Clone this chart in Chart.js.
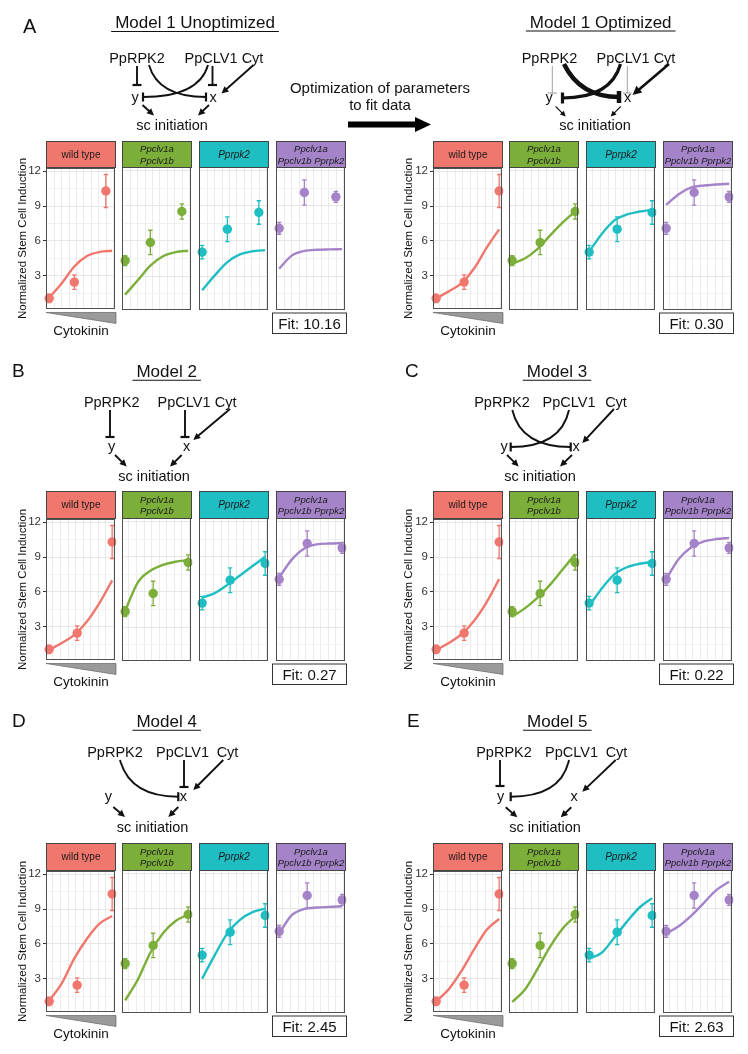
<!DOCTYPE html>
<html><head><meta charset="utf-8">
<script src="https://cdn.jsdelivr.net/npm/chart.js@4.4.1/dist/chart.umd.min.js"></script>
<style>
html,body{margin:0;padding:0;background:#fff;}
#page{position:relative;width:748px;height:1054px;overflow:hidden;font-family:"Liberation Sans",Arial,sans-serif;color:#111;}
canvas{position:absolute;}
svg{position:absolute;left:0;top:0;}
</style></head>
<body><div id="page"></div>
<script>
// ---------------- DATA ----------------
const genotypes = ['wild type', 'Ppclv1a|Ppclv1b', 'Pprpk2', 'Ppclv1a|Ppclv1b Pprpk2'];
const cytokininLevels = [0, 1, 2.25];
// observed stem cell induction (mean, error)
const wtMean  = [1.05, 2.45, 10.3];  const wtErr  = [0.37, 0.63, 1.42];
const clvMean = [4.33, 5.87, 8.5];   const clvErr = [0.42, 1.04, 0.65];
const rpkMean = [5.05, 7.0, 8.42];   const rpkErr = [0.58, 1.05, 1.0];
const triMean = [7.07, 10.12, 9.75]; const triErr = [0.5, 1.07, 0.47];
// model curves
const curveXUnopt = [0, 0.5, 1, 1.5, 2, 2.5];
const curveX = [0, 0.45, 0.9, 1.35, 1.8, 2.25];
const m1uWT  = [1.1, 2.35, 3.8, 4.7, 5.05, 5.15];
const m1uCLV = [1.43, 2.65, 3.9, 4.7, 5.05, 5.17];
const m1uRPK = [1.8, 3.07, 4.2, 4.85, 5.12, 5.22];
const m1uTRI = [3.65, 4.75, 5.15, 5.25, 5.28, 5.3];
const m1oWT  = [1.05, 1.65, 2.35, 3.6, 5.4, 7.0];
const m1oCLV = [4.08, 4.5, 5.3, 6.45, 7.55, 8.5];
const m1oRPK = [5.08, 6.6, 7.75, 8.25, 8.5, 8.65];
const m1oTRI = [9.07, 9.98, 10.55, 10.72, 10.8, 10.86];
const m2WT  = [1.0, 1.6, 2.3, 3.45, 5.05, 7.0];
const m2CLV = [4.39, 6.8, 7.8, 8.3, 8.57, 8.7];
const m2RPK = [5.52, 5.9, 6.6, 7.4, 8.2, 9.0];
const m2TRI = [7.23, 8.75, 9.7, 10.05, 10.12, 10.15];
const m3WT  = [1.0, 1.6, 2.35, 3.5, 5.1, 7.1];
const m3CLV = [3.9, 4.6, 5.5, 6.6, 7.9, 9.2];
const m3RPK = [4.8, 6.3, 7.5, 8.1, 8.4, 8.55];
const m3TRI = [7.1, 8.8, 9.8, 10.3, 10.5, 10.6];
const m4WT  = [1.1, 2.6, 4.75, 6.45, 7.75, 8.4];
const m4CLV = [1.2, 2.95, 5.25, 6.9, 7.95, 8.5];
const m4RPK = [3.05, 5.05, 6.9, 8.05, 8.7, 9.0];
const m4TRI = [6.89, 8.45, 8.98, 9.1, 9.15, 9.2];
const m5WT  = [1.05, 2.1, 3.65, 5.5, 7.2, 8.15];
const m5CLV = [1.06, 2.1, 3.85, 5.75, 7.3, 8.35];
const m5RPK = [4.76, 5.25, 6.55, 7.9, 9.1, 9.9];
const m5TRI = [6.89, 7.5, 8.4, 9.5, 10.6, 11.3];
const fitScores = ['10.16', '0.30', '0.27', '0.22', '2.45', '2.63'];
// axis ticks
const yGridValues = [1.5, 3, 4.5, 6, 7.5, 9, 10.5, 12];
const yTickLabels = [3, 6, 9, 12];
const gridUnopt = [0.2, 0.5, 0.79, 1.09, 1.38, 1.68, 1.97, 2.27, 2.56];
const gridOpt = [0.135, 0.405, 0.675, 0.945, 1.215, 1.485, 1.755, 2.025, 2.295];

// ---------------- STYLE / LAYOUT ----------------
const colors = ['#F0776D', '#7CAE3A', '#1FBEC3', '#A583C8'];
const FONT = '"Liberation Sans", Arial, sans-serif';
const Y_MIN = 0.125, Y_MAX = 12.29;
const rows = [
  {stripTop: 141, plotTop: 167, plotBottom: 310},
  {stripTop: 491, plotTop: 518, plotBottom: 661},
  {stripTop: 843, plotTop: 870, plotBottom: 1013}
];
const facetLefts = {L: [46, 122, 199, 276], R: [433, 509, 586, 663]};
const FW = 70;
const means = [wtMean, clvMean, rpkMean, triMean];
const errs = [wtErr, clvErr, rpkErr, triErr];
const panels = [
  {side: 'L', row: 0, cx: curveXUnopt, xMin: -0.125, xMax: 2.625, grid: gridUnopt, curves: [m1uWT, m1uCLV, m1uRPK, m1uTRI], fit: fitScores[0]},
  {side: 'R', row: 0, cx: curveX, xMin: -0.1125, xMax: 2.3625, grid: gridOpt, curves: [m1oWT, m1oCLV, m1oRPK, m1oTRI], fit: fitScores[1]},
  {side: 'L', row: 1, cx: curveX, xMin: -0.1125, xMax: 2.3625, grid: gridOpt, curves: [m2WT, m2CLV, m2RPK, m2TRI], fit: fitScores[2]},
  {side: 'R', row: 1, cx: curveX, xMin: -0.1125, xMax: 2.3625, grid: gridOpt, curves: [m3WT, m3CLV, m3RPK, m3TRI], fit: fitScores[3]},
  {side: 'L', row: 2, cx: curveX, xMin: -0.1125, xMax: 2.3625, grid: gridOpt, curves: [m4WT, m4CLV, m4RPK, m4TRI], fit: fitScores[4]},
  {side: 'R', row: 2, cx: curveX, xMin: -0.1125, xMax: 2.3625, grid: gridOpt, curves: [m5WT, m5CLV, m5RPK, m5TRI], fit: fitScores[5]}
];

const page = document.getElementById('page');

// ---------------- CHART.JS PLUGINS ----------------
const errorBarPlugin = {
  id: 'errorBars',
  afterDatasetsDraw(chart) {
    const ds = chart.data.datasets[1];
    const xs = chart.scales.x, ys = chart.scales.y, ctx = chart.ctx;
    ctx.save();
    ctx.strokeStyle = ds.borderColor; ctx.lineWidth = 1.3;
    ds.data.forEach(p => {
      const x = xs.getPixelForValue(p.x);
      const y1 = ys.getPixelForValue(p.y + p.e), y2 = ys.getPixelForValue(p.y - p.e);
      ctx.beginPath();
      ctx.moveTo(x, y1); ctx.lineTo(x, y2);
      ctx.moveTo(x - 2.2, y1); ctx.lineTo(x + 2.2, y1);
      ctx.moveTo(x - 2.2, y2); ctx.lineTo(x + 2.2, y2);
      ctx.stroke();
    });
    ctx.restore();
  }
};
const borderPlugin = {
  id: 'panelBorder',
  afterDraw(chart) {
    const a = chart.chartArea, ctx = chart.ctx;
    ctx.save(); ctx.strokeStyle = '#505050'; ctx.lineWidth = 1;
    ctx.strokeRect(Math.round(a.left) + 0.5, Math.round(a.top) + 0.5, Math.round(a.right - a.left) - 1, Math.round(a.bottom - a.top) - 1);
    ctx.restore();
  }
};

// ---------------- BUILD CHARTS ----------------
panels.forEach(P => {
  const R = rows[P.row];
  facetLefts[P.side].forEach((left, f) => {
    const first = f === 0;
    const axisW = first ? 34 : 0;
    const padL = first ? 40 : 6, padT = 8, padR = 4, padB = 8;
    const cv = document.createElement('canvas');
    const w = FW + padL + padR, h = (R.plotBottom - R.plotTop) + padT + padB;
    cv.width = w; cv.height = h;
    cv.style.left = (left - padL) + 'px'; cv.style.top = (R.plotTop - padT) + 'px';
    cv.style.width = w + 'px'; cv.style.height = h + 'px';
    page.appendChild(cv);
    const curvePts = P.cx.map((x, i) => ({x: x, y: P.curves[f][i]}));
    const obsPts = cytokininLevels.map((x, i) => ({x: x, y: means[f][i], e: errs[f][i]}));
    new Chart(cv, {
      type: 'scatter',
      data: {datasets: [
        {type: 'line', data: curvePts, borderColor: colors[f], borderWidth: 2.4, pointRadius: 0,
         cubicInterpolationMode: 'monotone', fill: false, order: 2},
        {type: 'scatter', data: obsPts, backgroundColor: colors[f], borderColor: colors[f], pointRadius: 4.7, borderWidth: 0, order: 1,
         clip: {left: 5, right: 1, top: 5, bottom: 5}}
      ]},
      options: {
        responsive: false, animation: false, events: [], devicePixelRatio: 1,
        layout: {padding: {left: padL - axisW, top: padT, right: padR, bottom: padB}},
        plugins: {legend: {display: false}, tooltip: {enabled: false}},
        scales: {
          x: {type: 'linear', min: P.xMin, max: P.xMax,
              afterBuildTicks: s => { s.ticks = P.grid.map(v => ({value: v})); },
              afterFit: s => { s.height = 0; },
              ticks: {display: false}, grid: {color: '#ebebeb', lineWidth: 1, drawTicks: false}, border: {display: false}},
          y: {type: 'linear', min: Y_MIN, max: Y_MAX,
              afterBuildTicks: s => { s.ticks = yGridValues.map(v => ({value: v})); },
              afterFit: s => { s.width = axisW; },
              ticks: {display: first, autoSkip: false, padding: 2, color: '#333', font: {family: FONT, size: 11.5},
                      callback: v => yTickLabels.includes(v) ? String(v) : ''},
              grid: {color: c => (c.tick && yTickLabels.includes(c.tick.value)) ? '#e6e6e6' : '#f1f1f1',
                     lineWidth: 1, drawTicks: first, tickLength: 3,
                     tickColor: c => (c.tick && yTickLabels.includes(c.tick.value)) ? '#333' : 'rgba(0,0,0,0)'},
              border: {display: false}}
        }
      },
      plugins: [errorBarPlugin, borderPlugin]
    });
  });
});

// ---------------- SVG OVERLAY ----------------
const NS = 'http://www.w3.org/2000/svg';
const svg = document.createElementNS(NS, 'svg');
svg.setAttribute('width', 748); svg.setAttribute('height', 1054);
page.appendChild(svg);
function el(tag, attrs) {
  const e = document.createElementNS(NS, tag);
  for (const k in attrs) e.setAttribute(k, attrs[k]);
  svg.appendChild(e); return e;
}
function txt(x, y, s, size, o) {
  o = o || {};
  const t = el('text', Object.assign({x: x, y: y, 'font-size': size, 'font-family': FONT, 'text-anchor': o.anchor || 'middle', fill: o.fill || '#111'}, o.attrs || {}));
  if (o.italic) t.setAttribute('font-style', 'italic');
  t.textContent = s; return t;
}

// strips, y titles, cytokinin wedge, fit boxes
panels.forEach(P => {
  const R = rows[P.row];
  const lefts = facetLefts[P.side];
  lefts.forEach((left, f) => {
    el('rect', {x: left + 0.5, y: R.stripTop + 0.5, width: FW - 1, height: R.plotTop - R.stripTop, fill: colors[f], stroke: '#444', 'stroke-width': 1});
    const lines = genotypes[f].split('|');
    const cxm = left + FW / 2, cym = (R.stripTop + R.plotTop) / 2;
    if (lines.length === 1) txt(cxm, cym + 3.6, lines[0], 10, {italic: f > 0, fill: '#1a1a1a'});
    else { txt(cxm, cym - 2, lines[0], 9.5, {italic: true, fill: '#1a1a1a'}); txt(cxm, cym + 9.6, lines[1], 9.5, {italic: true, fill: '#1a1a1a'}); }
  });
  const ytx = P.side === 'L' ? 21.7 : 407.5;
  const yty = (R.plotTop + R.plotBottom) / 2;
  txt(0, 0, 'Normalized Stem Cell Induction', 11.5, {attrs: {transform: `translate(${ytx + 4},${yty}) rotate(-90)`}});
  const l0 = lefts[0], tt = R.plotBottom + 2.5;
  el('polygon', {points: `${l0},${tt} ${l0 + FW},${tt} ${l0 + FW},${tt + 11}`, fill: '#9a9a9a', stroke: '#666', 'stroke-width': 0.7});
  txt(l0 + FW / 2, R.plotBottom + 25, 'Cytokinin', 13.5);
  const fr = lefts[3] + FW + 0.5;
  el('rect', {x: fr - 74, y: R.plotBottom + 3, width: 74, height: 20.5, fill: '#fff', stroke: '#333', 'stroke-width': 1});
  txt(fr - 37, R.plotBottom + 18.5, 'Fit: ' + P.fit, 15);
});

// panel letters and titles
const letters = [['A', 23, 33.3, 20], ['B', 12, 376.7, 19], ['C', 405, 376.7, 19], ['D', 12, 726.7, 19], ['E', 407, 726.7, 19]];
letters.forEach(l => txt(l[1], l[2], l[0], l[3], {anchor: 'start'}));
const titles = [['Model 1 Unoptimized', 195, 28], ['Model 1 Optimized', 600.7, 27.5], ['Model 2', 166.7, 376.7], ['Model 3', 557, 376.7], ['Model 4', 166.7, 726.7], ['Model 5', 557.3, 726.7]];
titles.forEach(t => {
  const e = txt(t[1], t[2], t[0], 17);
  const w = e.getComputedTextLength();
  el('line', {x1: t[1] - w / 2 - 4, x2: t[1] + w / 2 + 4, y1: t[2] + 3.5, y2: t[2] + 3.5, stroke: '#111', 'stroke-width': 1.1});
});

// network diagrams
function edge(e) {
  const [x1, y1, x2, y2] = e.p;
  const w = e.w || 1.9, col = e.col || '#111';
  const cx = e.c ? e.c[0] : x1, cy = e.c ? e.c[1] : y1;
  const L = Math.hypot(x2 - cx, y2 - cy), ux = (x2 - cx) / L, uy = (y2 - cy) / L;
  let ex = x2, ey = y2;
  const hl = e.hl || 7, hw = e.hw || 3.4;
  if (e.k === 'act') { ex = x2 - ux * hl * 0.7; ey = y2 - uy * hl * 0.7; }
  const d = e.c ? `M${x1} ${y1} Q${e.c[0]} ${e.c[1]} ${ex} ${ey}` : `M${x1} ${y1} L${ex} ${ey}`;
  el('path', {d: d, fill: 'none', stroke: col, 'stroke-width': w, 'stroke-linecap': 'butt'});
  if (e.k === 'inh') {
    const hb = e.hb || 4.5;
    el('line', {x1: x2 - uy * hb, y1: y2 + ux * hb, x2: x2 + uy * hb, y2: y2 - ux * hb, stroke: col, 'stroke-width': e.bw || Math.max(w, 2.2)});
  } else {
    const bx = x2 - ux * hl, by = y2 - uy * hl;
    el('polygon', {points: `${x2},${y2} ${bx - uy * hw},${by + ux * hw} ${bx + uy * hw},${by - ux * hw}`, fill: col});
  }
}
const diagrams = [
  {labels: [['PpRPK2', 137, 62.5], ['PpCLV1', 211, 62.5], ['Cyt', 252.5, 62.5], ['y', 135, 101.5], ['x', 213, 101.5], ['sc initiation', 172, 130]],
   edges: [
     {k: 'inh', p: [137, 66, 137, 85]}, {k: 'inh', p: [212.5, 66, 212.5, 85]}, {k: 'act', p: [253.5, 65, 221.5, 93.5]},
     {k: 'inh', p: [149, 65, 206, 97], c: [158, 97]}, {k: 'inh', p: [208, 65, 143, 97], c: [199, 97]},
     {k: 'act', p: [142.5, 105, 154, 115.5]}, {k: 'act', p: [209, 105, 198, 115.5]}]},
  {labels: [['PpRPK2', 549.5, 62.5], ['PpCLV1', 623, 62.5], ['Cyt', 664.5, 62.5], ['y', 549, 101.5], ['x', 627.5, 101.5], ['sc initiation', 595, 130]],
   edges: [
     {k: 'inh', p: [552.3, 66, 552.3, 93], w: 0.8, col: '#8a8a8a', bw: 0.9},
     {k: 'inh', p: [627.3, 66, 627.3, 93], w: 0.8, col: '#8a8a8a', bw: 0.9},
     {k: 'inh', p: [564, 64, 619, 97], c: [580, 97], w: 4.5, hb: 6},
     {k: 'inh', p: [620.5, 64, 562.5, 98], c: [611, 98], w: 3.2, hb: 5.5},
     {k: 'act', p: [669, 64, 632.5, 95], w: 2.6, hl: 9, hw: 4.5},
     {k: 'act', p: [555.7, 106.5, 565.7, 116.5], w: 1.1, hl: 5.5, hw: 2.8},
     {k: 'act', p: [620.7, 106.5, 610.7, 116.5], w: 1.1, hl: 5.5, hw: 2.8}]},
  {labels: [['PpRPK2', 111.7, 406.5], ['PpCLV1', 184, 406.5], ['Cyt', 225.7, 406.5], ['y', 111.7, 450.5], ['x', 186.7, 450.5], ['sc initiation', 154, 480.5]],
   edges: [
     {k: 'inh', p: [110, 410, 110, 437]}, {k: 'inh', p: [185, 410, 185, 437]}, {k: 'act', p: [230, 409, 193.3, 440]},
     {k: 'act', p: [115, 455, 126.7, 466.5]}, {k: 'act', p: [181.7, 455, 170, 466.5]}]},
  {labels: [['PpRPK2', 502, 406.5], ['PpCLV1', 569, 406.5], ['Cyt', 616, 406.5], ['y', 504, 450.5], ['x', 576, 450.5], ['sc initiation', 540, 480.5]],
   edges: [
     {k: 'inh', p: [512.3, 410, 570.7, 447], c: [521, 447]}, {k: 'inh', p: [569, 410, 510.7, 447], c: [561, 447]},
     {k: 'act', p: [614, 409, 582.3, 443]},
     {k: 'act', p: [507, 455, 518.7, 466.5]}, {k: 'act', p: [572, 455, 560, 466.5]}]},
  {labels: [['PpRPK2', 115, 756.7], ['PpCLV1', 182.5, 756.7], ['Cyt', 227.5, 756.7], ['y', 108.3, 800.5], ['x', 183.3, 800.5], ['sc initiation', 152.5, 831.5]],
   edges: [
     {k: 'inh', p: [120, 760, 178.3, 796.7], c: [130, 796.7]}, {k: 'inh', p: [184, 760, 184, 787]},
     {k: 'act', p: [223.3, 760, 193.3, 790]},
     {k: 'act', p: [113.3, 807, 125, 817]}, {k: 'act', p: [178.3, 807, 168.3, 817]}]},
  {labels: [['PpRPK2', 504, 756.7], ['PpCLV1', 571.5, 756.7], ['Cyt', 616.5, 756.7], ['y', 500.7, 800.5], ['x', 574, 800.5], ['sc initiation', 545, 831.5]],
   edges: [
     {k: 'inh', p: [500, 760, 500, 786]}, {k: 'inh', p: [569, 760, 510.7, 796.7], c: [561, 796.7]},
     {k: 'act', p: [615.7, 760, 582.3, 791.7]},
     {k: 'act', p: [505.7, 807.3, 517.3, 817.3]}, {k: 'act', p: [571.3, 807.3, 560.7, 817.3]}]}
];
diagrams.forEach(D => {
  D.labels.forEach(l => txt(l[1], l[2], l[0], 14.5));
  D.edges.forEach(edge);
});

// optimization arrow
txt(380, 93, 'Optimization of parameters', 15);
txt(380, 110, 'to fit data', 15);
el('polygon', {points: '348,121.5 415,121.5 415,117 431,124.5 415,132 415,127.5 348,127.5', fill: '#000'});
</script>
</body></html>
